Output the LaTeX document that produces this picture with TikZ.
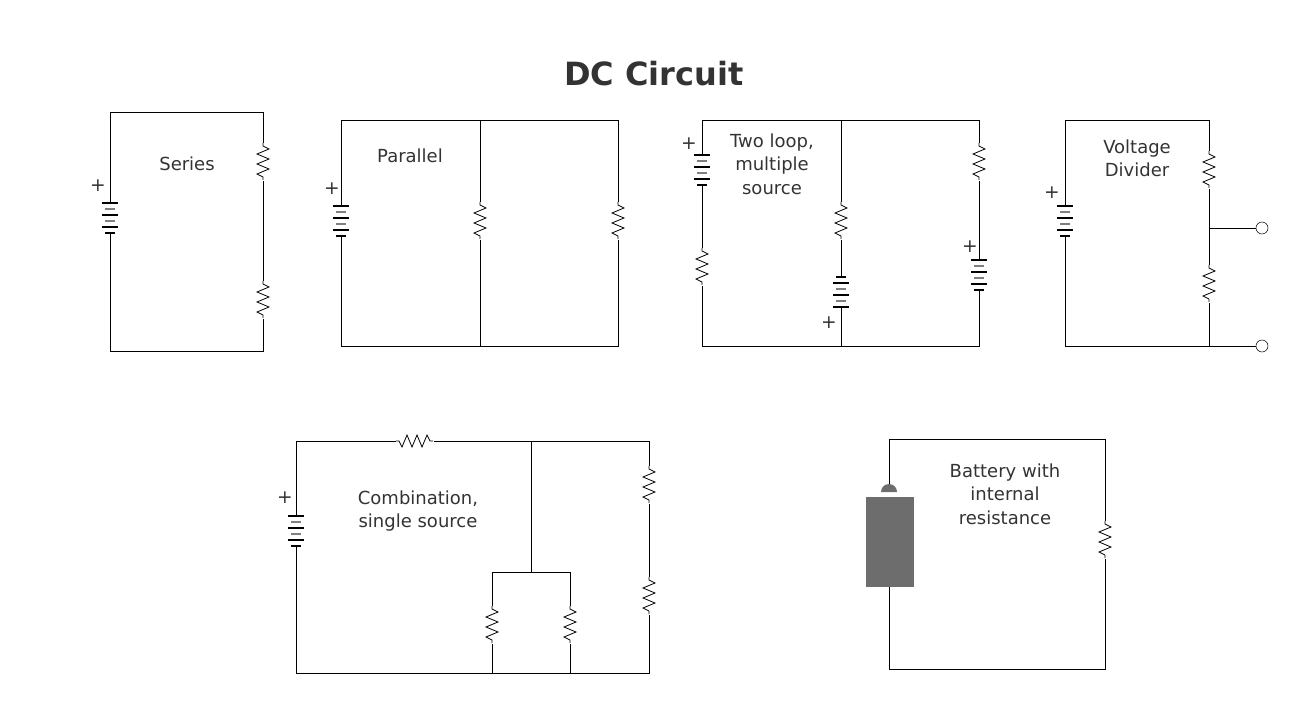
\documentclass[tikz,border=0pt]{standalone}
\usepackage{fontspec}
\setmainfont{DejaVu Sans}
\definecolor{ink}{HTML}{333333}
\definecolor{cellgray}{HTML}{6D6D6D}
\tikzset{
  wire/.style={draw=black, line width=0.6pt},
  lbl/.style={text=ink, font=\fontsize{13.5pt}{17.5pt}\selectfont, align=center},
  plus/.style={text=ink, font=\fontsize{14pt}{14pt}\selectfont},
  resv/.style={minimum width=12pt, minimum height=28.5pt, inner sep=0pt,
    path picture={\draw[line width=0.6pt] (path picture bounding box.center) ++(0,-19) -- ++(0,3) -- ++(6,3)
      -- ++(-12,5) -- ++(12,5) -- ++(-12,5) -- ++(12,5) -- ++(-12,5) -- ++(6,3) -- ++(0,3);}},
  resh/.style={minimum width=28.5pt, minimum height=12pt, inner sep=0pt,
    path picture={\draw[line width=0.6pt] (path picture bounding box.center) ++(-19,0) -- ++(3,0) -- ++(3,6)
      -- ++(5,-12) -- ++(5,12) -- ++(5,-12) -- ++(5,12) -- ++(5,-12) -- ++(3,6) -- ++(3,0);}},
  battup/.style={minimum width=18pt, minimum height=27pt, inner sep=0pt,
    path picture={
      \coordinate (bc) at (path picture bounding box.center);
      \draw[line width=0.6pt] ($(bc)+(0,-18)$) -- ++(0,3) ($(bc)+(0,15)$) -- ++(0,3);
      \foreach \yy in {-15,-3,9} \draw[line width=0.8pt] ($(bc)+(-8,\yy)$) -- ++(16,0);
      \foreach \yy in {-9,3} \draw[gray, line width=0.8pt] ($(bc)+(-5,\yy)$) -- ++(10,0);
      \draw[line width=0.8pt] ($(bc)+(-5,15)$) -- ++(10,0);}},
  battdown/.style={minimum width=18pt, minimum height=27pt, inner sep=0pt,
    path picture={
      \coordinate (bc) at (path picture bounding box.center);
      \draw[line width=0.6pt] ($(bc)+(0,-18)$) -- ++(0,3) ($(bc)+(0,15)$) -- ++(0,3);
      \foreach \yy in {-9,3,15} \draw[line width=0.8pt] ($(bc)+(-8,\yy)$) -- ++(16,0);
      \foreach \yy in {-3,9} \draw[gray, line width=0.8pt] ($(bc)+(-5,\yy)$) -- ++(10,0);
      \draw[line width=0.8pt] ($(bc)+(-5,-15)$) -- ++(10,0);}},
  term/.style={circle, draw, fill=white, minimum size=9pt, inner sep=0pt}
}
\usetikzlibrary{calc}
\begin{document}
\begin{tikzpicture}[x=0.75pt, y=-0.75pt]
\useasboundingbox (0,0) rectangle (1307,709);
\node[text=ink, font=\bfseries\fontsize{24pt}{28pt}\selectfont] (title) at (654,74) {DC Circuit};

% series
\node[battup] (sb) at (110,218) {};
\node[resv] (sr1) at (263,162) {};
\node[resv] (sr2) at (263,300) {};
\draw[wire] (sb.north) |- (263,112) -- (sr1.north);
\draw[wire] (sr1.south) -- (sr2.north);
\draw[wire] (sr2.south) |- (110,351) -- (sb.south);
\node[plus] (sp) at (98,186) {+};
\node[lbl] (sl) at (187,164) {Series};

% parallel
\node[battup] (pb) at (341,221) {};
\node[resv] (pr1) at (480,221) {};
\node[resv] (pr2) at (618,221) {};
\draw[wire] (pb.north) |- (618,120) -- (pr2.north);
\draw[wire] (pb.south) |- (618,346) -- (pr2.south);
\draw[wire] (480,120) -- (pr1.north) (pr1.south) -- (480,346);
\node[plus] (pp) at (332,189) {+};
\node[lbl] (pl) at (410,156) {Parallel};

% two loop
\node[battup] (tb1) at (702,170) {};
\node[resv] (tr1) at (702,267) {};
\node[resv] (tr2) at (841,221) {};
\node[battdown] (tb2) at (841,292) {};
\node[resv] (tr3) at (979,162) {};
\node[battup] (tb3) at (979,275) {};
\draw[wire] (tb1.north) |- (979,120) -- (tr3.north);
\draw[wire] (tb1.south) -- (tr1.north);
\draw[wire] (tr1.south) |- (979,346) -- (tb3.south);
\draw[wire] (tr3.south) -- (tb3.north);
\draw[wire] (841,120) -- (tr2.north) (tr2.south) -- (tb2.north) (tb2.south) -- (841,346);
\node[plus] (tp1) at (689,144) {+};
\node[plus] (tp2) at (829,323) {+};
\node[plus] (tp3) at (970,247) {+};
\node[lbl] (tl) at (772,164) {Two loop,\\multiple\\source};

% voltage divider
\node[battup] (vb) at (1065,221) {};
\node[resv] (vr1) at (1209,170) {};
\node[resv] (vr2) at (1209,284) {};
\node[term] (vo1) at (1262,228) {};
\node[term] (vo2) at (1262,346) {};
\draw[wire] (vb.north) |- (1209,120) -- (vr1.north);
\draw[wire] (vr1.south) -- (vr2.north);
\draw[wire] (vr2.south) -- (1209,346);
\draw[wire] (vb.south) |- (vo2.west);
\draw[wire] (1209,228) -- (vo1.west);
\node[plus] (vp) at (1052,193) {+};
\node[lbl] (vl) at (1137,158) {Voltage\\Divider};

% combination
\node[battup] (cb) at (296,531) {};
\node[resh] (cr1) at (415,441) {};
\node[resv] (cr2) at (649,485) {};
\node[resv] (cr3) at (649,596) {};
\node[resv] (cr4) at (492,625) {};
\node[resv] (cr5) at (570,625) {};
\draw[wire] (cb.north) |- (cr1.west);
\draw[wire] (cr1.east) -- (649,441) -- (cr2.north);
\draw[wire] (cr2.south) -- (cr3.north);
\draw[wire] (cr3.south) |- (296,673) -- (cb.south);
\draw[wire] (531,441) -- (531,572);
\draw[wire] (cr4.north) |- (570,572) -- (cr5.north);
\draw[wire] (cr4.south) -- (492,673) (cr5.south) -- (570,673);
\node[plus] (cp) at (285,498) {+};
\node[lbl] (cl) at (418,511) {Combination,\\single source};

% battery with internal resistance
\fill[cellgray] (866,497) rectangle (914,587);
\fill[cellgray] (881,492) arc (180:360:8) -- cycle;
\node[resv] (ir) at (1105,540) {};
\coordinate (btop) at (889,484);
\coordinate (bbot) at (889,587);
\draw[wire] (btop) |- (1105,439) -- (ir.north);
\draw[wire] (ir.south) |- (889,669) -- (bbot);
\node[lbl] (il) at (1005,494) {Battery with\\internal\\resistance};
\end{tikzpicture}
\end{document}
